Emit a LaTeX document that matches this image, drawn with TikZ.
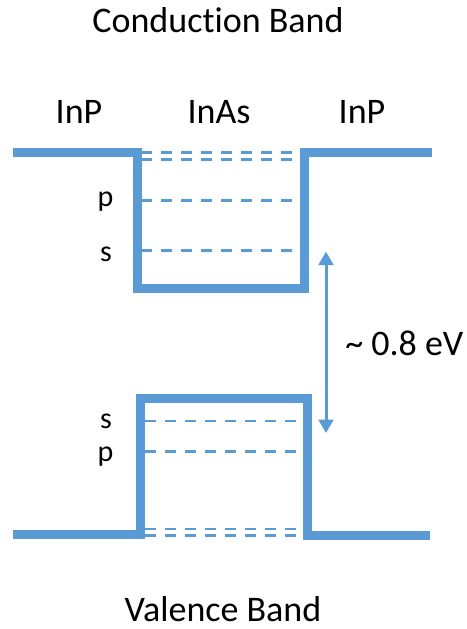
\documentclass[tikz,border=0pt]{standalone}
\usepackage{fontspec}
\setmainfont[Ligatures=NoCommon]{Carlito}
\usetikzlibrary{arrows.meta}
\definecolor{bandblue}{HTML}{5B9BD5}
\tikzset{
  band/.style={line width=6.75pt,bandblue,line join=miter},
  level/.style={line width=1.9pt,bandblue,dash pattern=on 8.25pt off 6.75pt},
  gaparrow/.style={line width=2.25pt,bandblue,
    {Triangle[length=10pt,width=11pt]}-{Triangle[length=10pt,width=11pt]}},
  big/.style={inner sep=0pt,anchor=base,font=\fontsize{27}{32}\selectfont},
  orb/.style={inner sep=0pt,anchor=base,font=\fontsize{22.5}{27}\selectfont}
}
\begin{document}
\begin{tikzpicture}[x=0.75pt,y=-0.75pt]
  \useasboundingbox (0,0) rectangle (467,629);
  %% titles
  \node[big] (cbtitle) at (218,32) {Conduction Band};
  \node[big] (vbtitle) at (223,621) {Valence Band};
  \node[big] (inpleft) at (79,123) {InP};
  \node[big] (inas) at (219,123) {InAs};
  \node[big] (inpright) at (362,123) {InP};
  %% conduction band edge
  \draw[band] (13,152) -- (137,152) -- (137,288.5) -- (304.5,288.5)
    -- (304.5,152) -- (432,152);
  %% confined electron levels
  \draw[level] (141,152.7) -- (297,152.7);
  \draw[level] (141,159.7) -- (297,159.7);
  \draw[level] (141,200.7) -- (297,200.7);
  \draw[level] (141,250.7) -- (292,250.7);
  \node[orb] (cbp) at (105.5,206) {p};
  \node[orb] (cbs) at (106,261) {s};
  %% valence band edge
  \draw[band] (13,534.5) -- (140.5,534.5) -- (140.5,398) -- (307,398)
    -- (307,535) -- (430,535);
  %% confined hole levels
  \draw[level] (145,421) -- (298,421);
  \draw[level] (145,451.7) -- (298,451.7);
  \draw[level] (145,529) -- (302,529);
  \draw[level] (145,535.5) -- (302,535.5);
  \node[orb] (vbs) at (106,428) {s};
  \node[orb] (vbp) at (105.5,461) {p};
  %% gap
  \coordinate (gaptop) at (326,251.7);
  \coordinate (gapbot) at (326,433);
  \draw[gaparrow] (gaptop) -- (gapbot);
  \node[big,anchor=base west] (gaplbl) at (345,355) {\textasciitilde{} 0.8 eV};
\end{tikzpicture}
\end{document}
